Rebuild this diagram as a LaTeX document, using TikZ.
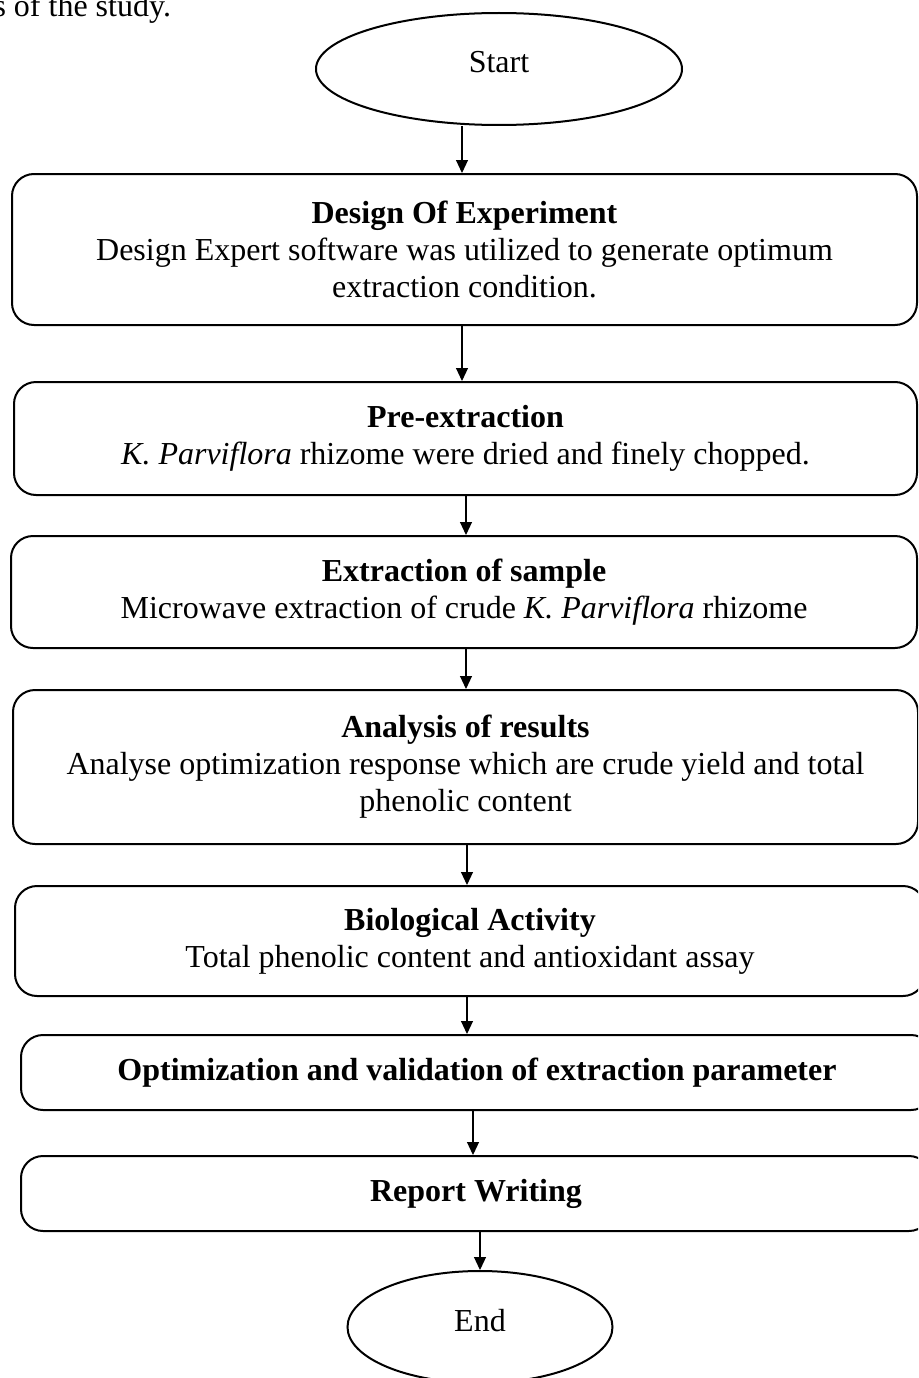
\documentclass[tikz,border=0pt]{standalone}
\usepackage{fontspec}
\setmainfont{Liberation Serif}
\usepackage{tikz}
\usetikzlibrary{arrows.meta, shapes.geometric, positioning}
\tikzstyle{arrow} = [line width=1.1pt, -{Triangle[length=13pt,width=12pt]}]
\tikzstyle{terminal} = [ellipse, draw, line width=2pt, inner sep=0pt, text depth=14pt]
\tikzstyle{stepbox} = [rectangle, rounded corners=22pt, draw, line width=2pt, align=center, inner sep=0pt]

\begin{document}
\begin{tikzpicture}[x=1pt, y=-1pt, font=\fontsize{32}{37}\selectfont]
\useasboundingbox (0,0) rectangle (918,1378);
\clip (0,0) rectangle (918,1378);
\node[anchor=base west] (caption) at (-10,17) {s of the study.};
\node[terminal, minimum width=366pt, minimum height=112pt] (start) at (499,69) {Start};
\node[stepbox, minimum width=905pt, minimum height=151pt] (design) at (464.5,249.5) {\textbf{Design Of Experiment}\\Design Expert software was utilized to generate optimum\\extraction condition.};
\node[stepbox, minimum width=903pt, minimum height=113pt] (preext) at (465.5,438.5) {\textbf{Pre-extraction}\\\textit{K. Parviflora} rhizome were dried and finely chopped.};
\node[stepbox, minimum width=906pt, minimum height=112pt] (extract) at (464,592) {\textbf{Extraction of sample}\\Microwave extraction of crude \textit{K. Parviflora} rhizome};
\node[stepbox, minimum width=905pt, minimum height=154pt] (analysis) at (465.5,767) {\textbf{Analysis of results}\\Analyse optimization response which are crude yield and total\\phenolic content};
\node[stepbox, minimum width=910pt, minimum height=110pt] (bio) at (470,941) {\textbf{Biological Activity}\\Total phenolic content and antioxidant assay};
\node[stepbox, minimum width=912pt, minimum height=75pt] (optim) at (477,1072.5) {\textbf{Optimization and validation of extraction parameter}};
\node[stepbox, minimum width=910pt, minimum height=75pt] (report) at (476,1193.5) {\textbf{Report Writing}};
\node[terminal, minimum width=265pt, minimum height=112pt] (stop) at (480,1327) {End};

\draw[arrow] (start.south -| 462,0) -- (design.north -| 462,0);
\draw[arrow] (design.south -| 462,0) -- (preext.north -| 462,0);
\draw[arrow] (preext.south -| 466,0) -- (extract.north -| 466,0);
\draw[arrow] (extract.south -| 466,0) -- (analysis.north -| 466,0);
\draw[arrow] (analysis.south -| 467,0) -- (bio.north -| 467,0);
\draw[arrow] (bio.south -| 467,0) -- (optim.north -| 467,0);
\draw[arrow] (optim.south -| 473,0) -- (report.north -| 473,0);
\draw[arrow] (report.south -| stop.north) -- (stop.north);
\end{tikzpicture}
\end{document}
